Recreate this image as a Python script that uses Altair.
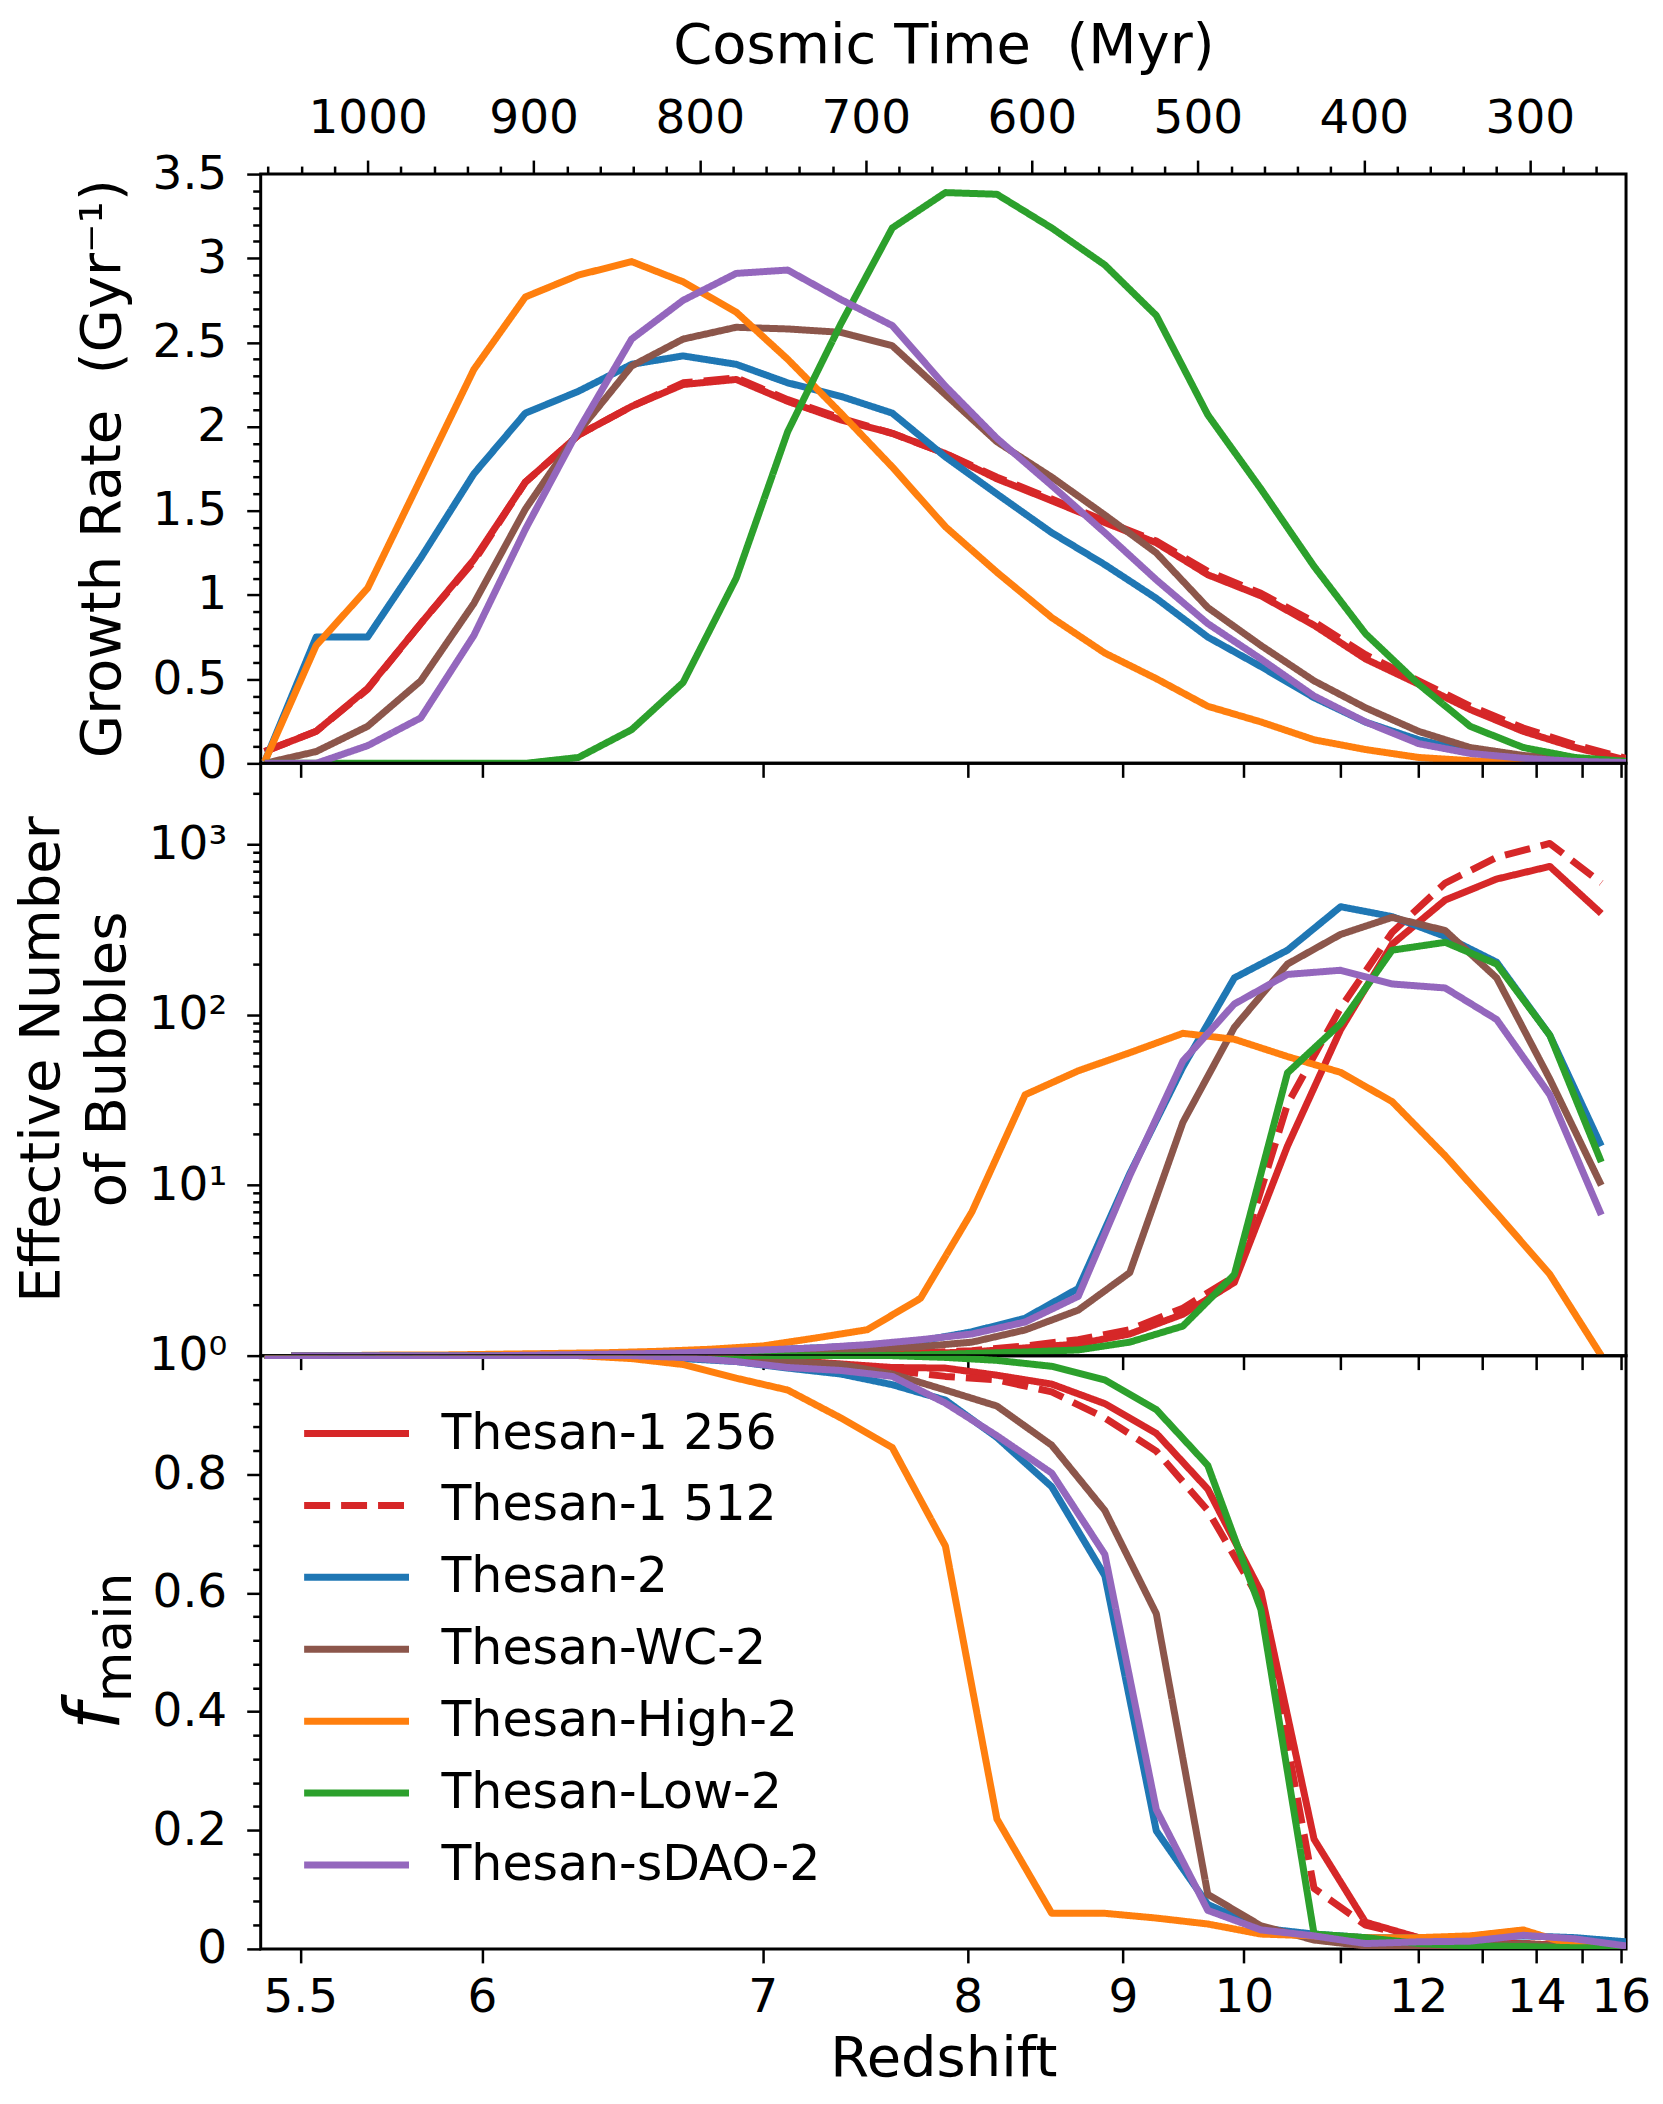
import altair as alt
import numpy as np
import pandas as pd

FONT = "DejaVu Sans"

SERIES = ["Thesan-1 256", "Thesan-1 512", "Thesan-2", "Thesan-WC-2",
          "Thesan-High-2", "Thesan-Low-2", "Thesan-sDAO-2"]
COLORS = ["#d62728", "#d62728", "#1f77b4", "#8c564b", "#ff7f0e", "#2ca02c", "#9467bd"]
DASHES = [[1, 0], [26, 11], [1, 0], [1, 0], [1, 0], [1, 0], [1, 0]]

# cosmic time (Myr) of the snapshots and of the mid-points between them
T_SNAP = [1062, 1031, 1000, 968, 936, 905, 873, 841, 810, 778, 747, 715, 684, 652,
          621, 588, 556, 525, 494, 462, 430, 399, 367, 336, 304, 273, 242]
T_MID = [1046, 1015, 983, 952, 920, 888, 857, 825, 794, 762, 730, 699, 667, 636,
         604, 572, 541, 509, 478, 446, 414, 383, 351, 320, 288, 257]

# ---- growth rate (Gyr^-1) at T_SNAP
growth_red256 = [0.07, 0.19, 0.445, 0.83, 1.21, 1.67, 1.95, 2.12, 2.25, 2.28, 2.15, 2.04, 1.96, 1.84,
                 1.69, 1.56, 1.43, 1.31, 1.12, 0.995, 0.82, 0.62, 0.47, 0.32, 0.19, 0.095, 0.02]
growth_red512 = [0.07, 0.19, 0.44, 0.83, 1.20, 1.67, 1.95, 2.12, 2.26, 2.29, 2.16, 2.05, 1.96, 1.84,
                 1.70, 1.57, 1.44, 1.32, 1.14, 1.01, 0.84, 0.645, 0.49, 0.34, 0.21, 0.11, 0.03]
growth_blue = [0.01, 0.75, 0.75, 1.22, 1.72, 2.08, 2.21, 2.37, 2.42, 2.37, 2.26, 2.18, 2.08, 1.82,
               1.60, 1.37, 1.18, 0.98, 0.75, 0.575, 0.39, 0.245, 0.14, 0.07, 0.035, 0.016, 0.007]
growth_brown = [0.0, 0.07, 0.22, 0.49, 0.95, 1.51, 1.97, 2.36, 2.52, 2.59, 2.58, 2.56, 2.48, 2.19,
                1.91, 1.70, 1.475, 1.25, 0.925, 0.70, 0.49, 0.33, 0.19, 0.094, 0.047, 0.023, 0.005]
growth_orange = [0.01, 0.70, 1.04, 1.69, 2.34, 2.77, 2.90, 2.98, 2.86, 2.68, 2.40, 2.08, 1.76, 1.405,
                 1.135, 0.866, 0.655, 0.503, 0.339, 0.246, 0.14, 0.082, 0.035, 0.016, 0.005, 0.0, 0.0]
growth_green = [0.0, 0.0, 0.0, 0.0, 0.0, 0.0, 0.035, 0.20, 0.48, 1.10, 1.97, 2.61, 3.18, 3.39,
                3.38, 3.18, 2.96, 2.66, 2.07, 1.63, 1.17, 0.77, 0.47, 0.22, 0.094, 0.035, 0.012]
growth_purple = [0.0, 0.0, 0.105, 0.27, 0.76, 1.39, 1.98, 2.52, 2.75, 2.91, 2.93, 2.755, 2.60, 2.24,
                 1.93, 1.65, 1.37, 1.09, 0.83, 0.62, 0.40, 0.246, 0.117, 0.059, 0.03, 0.012, 0.005]

# ---- effective number of bubbles at T_MID
nb_red256 = [1, 1, 1, 1, 1, 1, 1, 1, 1, 1.01, 1.01, 1.02, 1.03, 1.05, 1.11, 1.17, 1.34, 1.75, 2.69,
             17, 82, 260, 473, 628, 745, 394]
nb_red512 = [1, 1, 1, 1, 1, 1, 1, 1, 1, 1.01, 1.01, 1.02, 1.04, 1.07, 1.14, 1.24, 1.42, 1.9, 2.91,
             30, 110, 305, 595, 842, 1016, 595]
nb_blue = [1, 1, 1, 1, 1, 1.01, 1.02, 1.03, 1.05, 1.08, 1.11, 1.15, 1.22, 1.38, 1.66, 2.48, 11.7,
           49.5, 165, 240, 432, 378, 289, 204, 76, 17]
nb_brown = [1, 1, 1, 1, 1, 1, 1.01, 1.01, 1.02, 1.04, 1.06, 1.09, 1.13, 1.2, 1.415, 1.85, 3.07,
            23.4, 84.6, 199, 297, 374, 313, 165, 42, 10]
nb_orange = [1, 1, 1.01, 1.01, 1.02, 1.03, 1.04, 1.06, 1.09, 1.14, 1.27, 1.42, 2.17, 7.0, 34, 47,
             60, 78, 72, 57, 46, 31, 14.9, 6.85, 3.0, 1.0]
nb_green = [1, 1, 1, 1, 1, 1, 1, 1, 1, 1, 1, 1, 1.01, 1.03, 1.05, 1.08, 1.2, 1.49, 2.99, 45.7, 89,
            240, 267, 199, 76, 13.7]
nb_purple = [1, 1, 1, 1, 1, 1.01, 1.02, 1.03, 1.05, 1.08, 1.11, 1.16, 1.24, 1.34, 1.575, 2.23, 11.4,
             53.6, 116, 173, 183, 152, 144, 94, 34, 6.7]

# ---- f_main at T_SNAP
fm_red256 = [1, 1, 1, 1, 1, 1, 1, 1, 1, 0.998, 0.992, 0.986, 0.98, 0.979, 0.967, 0.952, 0.919,
             0.869, 0.775, 0.602, 0.185, 0.045, 0.019, 0.012, 0.009, 0.005, 0.002]
fm_red512 = [1, 1, 1, 1, 1, 1, 1, 1, 1, 0.997, 0.99, 0.982, 0.975, 0.965, 0.959, 0.939, 0.895,
             0.839, 0.739, 0.585, 0.102, 0.04, 0.019, 0.012, 0.009, 0.005, 0.002]
fm_blue = [1, 1, 1, 1, 1, 1, 1, 1, 0.995, 0.99, 0.979, 0.969, 0.951, 0.925, 0.862, 0.779, 0.629,
           0.199, 0.075, 0.035, 0.025, 0.019, 0.019, 0.019, 0.022, 0.019, 0.012]
fm_brown = [1, 1, 1, 1, 1, 1, 1, 1, 0.998, 0.995, 0.99, 0.985, 0.969, 0.942, 0.915, 0.849, 0.739,
            0.565, 0.092, 0.039, 0.015, 0.005, 0.002, 0.004, 0.009, 0.003, 0.002]
fm_orange = [1, 1, 1, 1, 1, 1, 1, 0.995, 0.985, 0.962, 0.942, 0.895, 0.845, 0.679, 0.219, 0.06,
             0.06, 0.052, 0.042, 0.025, 0.022, 0.019, 0.019, 0.022, 0.032, 0.005, 0.002]
fm_green = [1, 1, 1, 1, 1, 1, 1, 1, 1, 1, 1, 1, 1, 0.997, 0.992, 0.982, 0.959, 0.909, 0.815, 0.572,
            0.025, 0.019, 0.009, 0.005, 0.004, 0.002, 0.002]
fm_purple = [1, 1, 1, 1, 1, 1, 1, 1, 0.997, 0.99, 0.98, 0.975, 0.965, 0.92, 0.865, 0.802, 0.665,
             0.235, 0.065, 0.032, 0.022, 0.009, 0.012, 0.013, 0.023, 0.017, 0.005]

GROWTH = dict(zip(SERIES, [growth_red256, growth_red512, growth_blue, growth_brown,
                           growth_orange, growth_green, growth_purple]))
NBUB = dict(zip(SERIES, [nb_red256, nb_red512, nb_blue, nb_brown, nb_orange, nb_green, nb_purple]))
FMAIN = dict(zip(SERIES, [fm_red256, fm_red512, fm_blue, fm_brown, fm_orange, fm_green, fm_purple]))

# axis texts / ticks
TITLE_TOP = "Cosmic Time\u00a0 (Myr)"
TITLE_BOTTOM = "Redshift"
TITLE_GROWTH = "Growth Rate\u00a0 (Gyr\u207b\u00b9)"
TITLE_NB_1 = "Effective Number"
TITLE_NB_2 = "of Bubbles"
TITLE_F = "f"
TITLE_F_SUB = "main"

TIME_TICKS = [300, 400, 500, 600, 700, 800, 900, 1000]
TIME_MINOR = [t for t in range(260, 1061, 20) if t % 100 != 0]
Z_TICKS = [5.5, 6, 7, 8, 9, 10, 11, 12, 13, 14, 15, 16]
Z_LABELS = ["5.5", "6", "7", "8", "9", "10", "", "12", "", "14", "", "16"]
Y1_MAJOR = [0, 0.5, 1, 1.5, 2, 2.5, 3, 3.5]
Y1_MINOR = [round(0.1 * k, 2) for k in range(1, 35) if k % 5 != 0]
Y2_MAJOR = [1, 10, 100, 1000]
Y2_LABELS = ["10\u2070", "10\u00b9", "10\u00b2", "10\u00b3"]
Y2_MINOR = [m * d for d in (1, 10, 100) for m in range(2, 10)] + [2000]
Y3_MAJOR = [0, 0.2, 0.4, 0.6, 0.8]
Y3_MINOR = [round(0.04 * k, 2) for k in range(1, 25) if k % 5 != 0]

# Planck-2015 flat LCDM: age of the Universe at redshift z, used as the x-scale mapping
H0, OM, ORAD = 67.74, 0.3089, 9.1e-5
OL = 1.0 - OM - ORAD
HUBBLE_TIME_MYR = 977792.0 / H0


def cosmic_time_myr(z):
    a = np.linspace(1e-10, 1.0 / (1.0 + z), 400001)
    integrand = 1.0 / np.sqrt(OM / a + ORAD / a ** 2 + OL * a ** 2)
    return float(np.trapezoid(integrand, a) * HUBBLE_TIME_MYR)


Z_TIMES = [round(cosmic_time_myr(z), 3) for z in Z_TICKS]
z_expr = "''"
for tz, lab in zip(reversed(Z_TIMES), reversed(Z_LABELS)):
    z_expr = f"abs(datum.value - {tz}) < 0.01 ? '{lab}' : ({z_expr})"
y2_expr = "''"
for v, lab in zip(reversed(Y2_MAJOR), reversed(Y2_LABELS)):
    y2_expr = f"datum.value == {v} ? '{lab}' : ({y2_expr})"

W = 1367
H_TOP, H_MID, H_BOT = 590, 593, 594

xscale = alt.Scale(domain=[242.1, 1064.4], reverse=True, nice=False, zero=False)
y1scale = alt.Scale(domain=[0, 3.5], nice=False, zero=False)
y2scale = alt.Scale(type="log", domain=[1, 3000], nice=False)
y3scale = alt.Scale(domain=[0, 1], nice=False, zero=False)
color_scale = alt.Scale(domain=SERIES, range=COLORS)
dash_scale = alt.Scale(domain=SERIES, range=DASHES)

AX = dict(grid=False, domain=False, tickColor="black", tickWidth=2.5,
          labelFont=FONT, labelFontSize=47, labelColor="black", labelFlush=False,
          labelOverlap=False, titleFont=FONT, titleFontSize=56, titleFontWeight="normal",
          titleColor="black")

x_bottom_plain = alt.Axis(orient="bottom", values=Z_TIMES, labels=False, tickSize=14, title=None, **AX)
x_bottom_lab = alt.Axis(orient="bottom", values=Z_TIMES, labelExpr=z_expr, tickSize=14,
                        labelPadding=12, title=TITLE_BOTTOM, titlePadding=11, **AX)
x_top_major = alt.Axis(orient="top", values=TIME_TICKS, format="d", tickSize=14, labelPadding=18,
                       title=TITLE_TOP, titlePadding=19.5, **AX)
x_top_minor = alt.Axis(orient="top", values=TIME_MINOR, labels=False, tickSize=8, title=None, **AX)


def y_major(vals, **kw):
    return alt.Axis(orient="left", values=vals, tickSize=14, labelPadding=20, title=None, **kw, **AX)


def y_minor(vals):
    return alt.Axis(orient="left", values=vals, labels=False, tickSize=8, title=None, **AX)


def long_df(times, table):
    rows = []
    for name in SERIES:
        for t, v in zip(times, table[name]):
            rows.append({"t": t, "v": v, "series": name})
    return pd.DataFrame(rows)


def text_layer(text, dx, dy, size, align="center", italic=False):
    return alt.Chart(pd.DataFrame({"label": [text]})).mark_text(
        angle=270, align=align, baseline="alphabetic", fontSize=size, font=FONT,
        fontStyle="italic" if italic else "normal", color="black"
    ).encode(text="label:N", x=alt.value(dx), y=alt.value(dy))


def panel(df, yscale, axes, texts, height, legend=None):
    layers = []
    for xa, ya in axes:
        layers.append(alt.Chart(df).mark_line(strokeOpacity=0).encode(
            x=alt.X("t:Q", scale=xscale, axis=xa),
            y=alt.Y("v:Q", scale=yscale, axis=ya)))
    for name in SERIES:
        layers.append(alt.Chart(df).transform_filter(alt.datum.series == name).mark_line(
            strokeWidth=7, strokeJoin="round", clip=True).encode(
            x=alt.X("t:Q", scale=xscale, axis=None),
            y=alt.Y("v:Q", scale=yscale, axis=None),
            color=alt.Color("series:N", scale=color_scale, legend=legend),
            strokeDash=alt.StrokeDash("series:N", scale=dash_scale, legend=legend)))
    layers += texts
    return alt.layer(*layers).resolve_axis(x="independent", y="independent").properties(
        width=W, height=height)


PLOT_LEFT = 262.5

top = panel(
    long_df(T_SNAP, GROWTH), y1scale,
    [(x_bottom_plain, y_major(Y1_MAJOR, format="~g")),
     (x_top_major, y_minor(Y1_MINOR)),
     (x_top_minor, None)],
    [text_layer(TITLE_GROWTH, 122 - PLOT_LEFT, H_TOP / 2, 56)],
    H_TOP)

mid = panel(
    long_df(T_MID, NBUB), y2scale,
    [(x_bottom_plain, y_major(Y2_MAJOR, labelExpr=y2_expr)),
     (None, y_minor(Y2_MINOR))],
    [text_layer(TITLE_NB_1, 61 - PLOT_LEFT, H_MID / 2, 56),
     text_layer(TITLE_NB_2, 127 - PLOT_LEFT, H_MID / 2, 56)],
    H_MID)

legend = alt.Legend(orient="none", legendX=40, legendY=42, title=None, symbolType="stroke",
                    symbolSize=11025, symbolStrokeWidth=7, labelFont=FONT, labelFontSize=49,
                    labelColor="black", labelOffset=29, labelLimit=800, rowPadding=0,
                    clipHeight=72, padding=0)

bot = panel(
    long_df(T_SNAP, FMAIN), y3scale,
    [(x_bottom_lab, y_major(Y3_MAJOR, format="~g")),
     (None, y_minor(Y3_MINOR))],
    [text_layer(TITLE_F, 121 - PLOT_LEFT, 375, 76, align="left", italic=True),
     text_layer(TITLE_F_SUB, 133 - PLOT_LEFT, 347, 52, align="left")],
    H_BOT, legend=legend)

chart = alt.vconcat(top, mid, bot, spacing=0, bounds="flush").resolve_scale(
    color="independent", strokeDash="independent").resolve_legend(
    color="independent", strokeDash="independent").properties(
    padding={"left": 5, "top": 7, "right": 2, "bottom": 2}).configure(
    font=FONT).configure_view(stroke="black", strokeWidth=3)

chart.save("out.html", embed_options={"renderer": "svg", "actions": False})
